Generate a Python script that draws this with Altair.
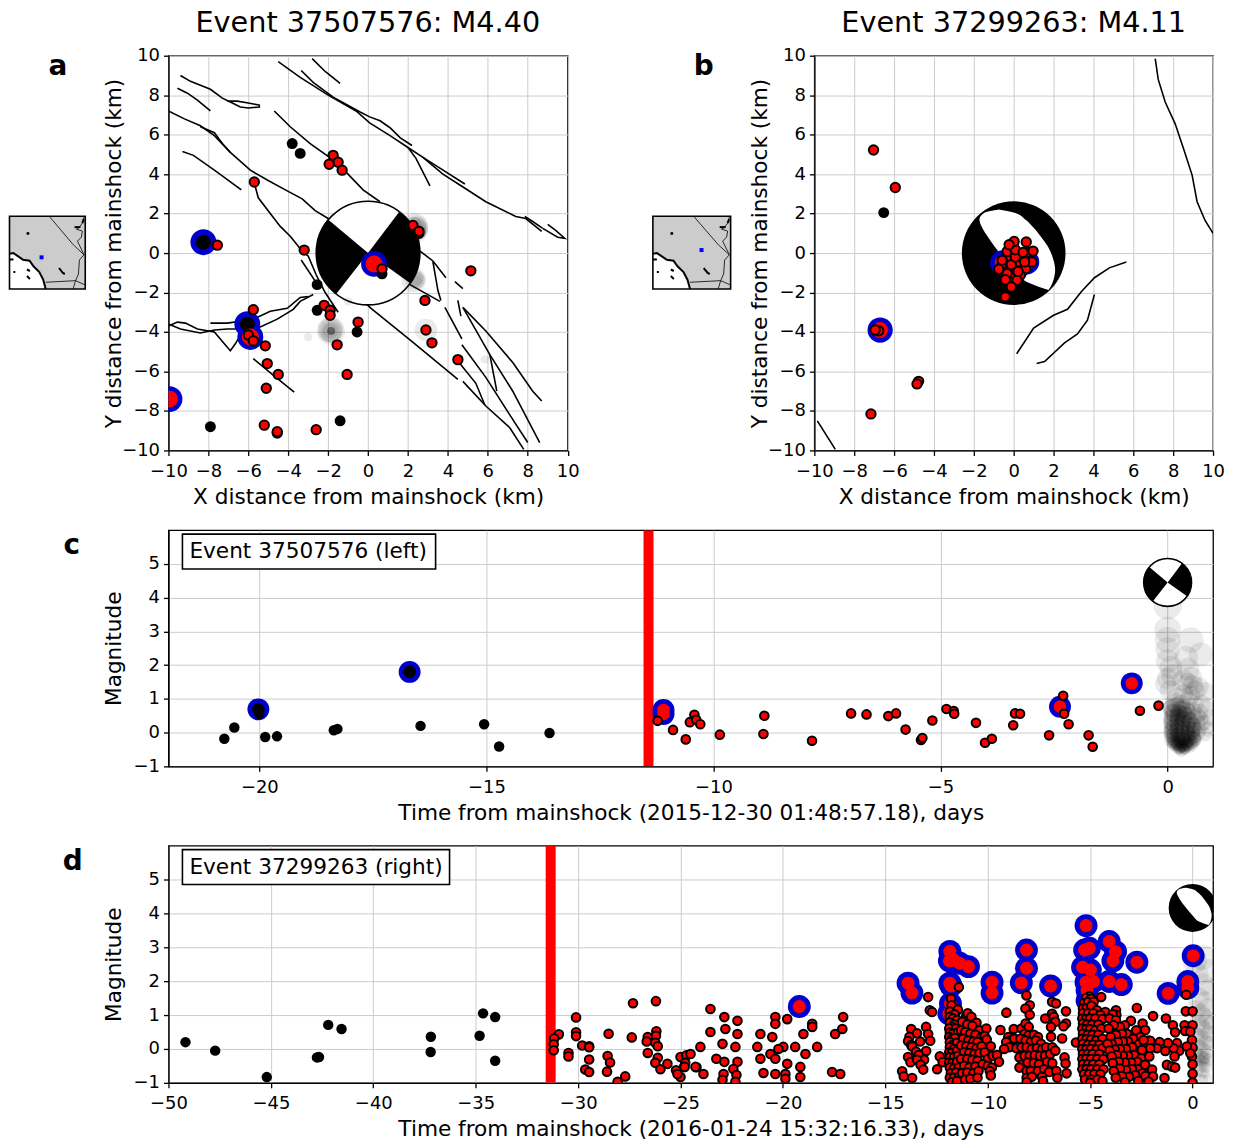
import altair as alt
import pandas as pd

FONT = "DejaVu Sans"
TITLE_A = "Event 37507576: M4.40"
TITLE_B = "Event 37299263: M4.11"
XLAB_C = "Time from mainshock (2015-12-30 01:48:57.18), days"
XLAB_D = "Time from mainshock (2016-01-24 15:32:16.33), days"

# ---------- panel a ----------
faults_a = [
    [(-9.4,9.0),(-8.9,8.7),(-8.4,8.5),(-7.9,8.3),(-7.3,7.85),(-6.9,7.65),(-6.4,7.4),(-6,7.35),(-5.45,7.4),(-5.45,7.5),(-6,7.6),(-6.55,7.7),(-7.05,7.7)],
    [(-9.55,8.35),(-9.05,8.1),(-8.55,7.75),(-7.9,7.2)],
    [(-10,7.2),(-9.2,6.8),(-8.4,6.45),(-7.7,5.95),(-6.9,5.1),(-5.9,4.2),(-5.05,3.7),(-4.05,3.15),(-3.3,2.75),(-2.65,2.15),(-2,1.75),(-1,1.2)],
    [(-8.4,6.4),(-7.7,6.1),(-7.3,5.55),(-6.9,5.1)],
    [(-9.3,5.15),(-8.75,4.95),(-7.7,4.2),(-6.35,3.2)],
    [(-5.7,3.55),(-5.5,2.8),(-4.9,2.0),(-4.4,1.35),(-3.9,0.85),(-3.3,0.1),(-3,-0.15),(-2.6,-1.1),(-2.15,-2),(-1.5,-3)],
    [(-3.35,-0.35),(-2.6,-1.5)],
    [(-4.7,7.2),(-3.9,6.4),(-2.9,5.55),(-2,4.9),(-1.1,4.1),(-0.25,3.2),(0.6,2.6)],
    [(-4.5,9.7),(-3.4,8.9),(-2,8),(-0.6,7.2),(0.08,6.6),(1.1,5.95),(2,5.35),(2.75,4.85),(3.75,4.0),(4.6,3.45),(5.9,2.6),(7.4,1.85),(7.9,1.75),(8.7,1.1)],
    [(-3.35,9.25),(-2.75,8.65),(-1.75,7.9),(-0.4,7.15),(0.08,6.9),(0.6,6.7),(1.1,6.35),(1.6,5.85),(2.2,5.45)],
    [(-2.8,9.85),(-2.15,9.2),(-1.4,8.6)],
    [(2,5.35),(2.4,4.8),(3.1,3.4)],
    [(2.75,4.85),(3.6,4.3),(4.85,3.5)],
    [(7.85,1.85),(8.25,1.6),(8.75,1.25)],
    [(9,1.45),(9.4,1.15),(9.85,0.75),(9.5,0.8),(8.75,1.25)],
    [(-1.1,-1.6),(0.15,-2.8),(2.1,-4.4),(4.5,-6.4)],
    [(4.75,-6.5),(5.9,-7.75),(7.1,-8.85),(7.8,-9.95)],
    [(4.7,-4.65),(5.9,-6.3),(7.1,-8.2),(8,-9.6)],
    [(3.85,-2.75),(4.7,-4.35)],
    [(4.75,-2.75),(5.9,-3.95),(7.25,-5.55),(8.25,-7),(8.7,-7.5)],
    [(4.75,-2.75),(6.1,-5.15),(7.25,-7),(8.6,-9.6)],
    [(6.1,-5.15),(6.45,-7)],
    [(4.5,-2.4),(4.65,-3.2)],
    [(4.6,-5.6),(5.4,-6.6),(5.85,-7.7)],
    [(4.35,-1.45),(4.75,-1.8)],
    [(2.1,-1.6),(3.6,-2.45)],
    [(2.6,0.1),(3.25,-0.4),(3.9,-1.25)],
    [(3.25,-0.45),(3.5,-1.9),(3.65,-2.4)],
    [(-10,-3.7),(-9.55,-3.5),(-9.15,-3.55),(-8.55,-3.85),(-7.7,-4),(-7.2,-4.6),(-6.9,-4.95),(-6.65,-4.6),(-6.3,-4)],
    [(-10,-3.6),(-9.4,-3.85),(-8.4,-4.05),(-7.7,-3.9),(-7.05,-3.85),(-6.4,-3.85),(-5.4,-3.75),(-4.55,-3.35),(-3.75,-2.85),(-3.4,-2.45),(-2.75,-2.1)],
    [(-7.9,-3.55),(-7.05,-3.55),(-5.75,-3.35),(-4.9,-2.95),(-4.05,-2.8),(-3.4,-2.25),(-3,-2.2)],
    [(-5.75,-5.35),(-4.8,-6.15),(-3.7,-7.05)],
]
black_a = [(-3.8,5.55),(-3.4,5.05),(-2.55,-1.6),(-2.55,-2.9),(-0.55,-4),(-7.9,-8.8),(-1.4,-8.5),(0.7,-1.05)]
red_a = [(-1.75,4.95),(-1.5,4.6),(-1.95,4.5),(-1.3,4.2),(-5.7,3.6),(-7.55,0.4),(-3.2,0.15),
         (-5.75,-2.87),(-2.2,-2.65),(-1.9,-2.9),(-1.9,-3.15),(-0.5,-3.5),(-1.55,-4.65),(-5.15,-4.7),
         (-5.05,-5.6),(-4.5,-6.15),(-5.1,-6.85),(-1.05,-6.15),(-6,-4.15),(-5.75,-4.45),(-5.2,-8.72),
         (-4.55,-9.12),(-4.55,-9.05),(-2.6,-8.95),(2.55,1.0),(2.25,1.4),(2.55,1.1),(0.7,-0.8),(5.15,-0.9),
         (2.85,-2.4),(2.9,-3.9),(3.2,-4.55),(4.5,-5.4)]
big_black_a = [(-8.25,0.55),(-6.05,-3.6)]
big_red_a = [(-5.9,-4.25),(-9.95,-7.4),(0.3,-0.55)]
grey_a = [(2.33,1.33,750),(2.4,1.3,600),(2.35,1.25,500),(2.5,1.2,420),(2.45,1.35,350),(2.5,1.0,300),(2.55,1.1,260),(2.3,1.45,220),
          (2.28,-1.36,620),(2.35,-1.36,420),(2.4,-1.36,300),(2.42,-1.3,200),(2.38,-1.42,160),
          (-1.85,-3.95,780),(-1.9,-3.9,650),(-1.85,-3.95,560),(-1.85,-4,420),(-1.88,-3.95,240),(-1.85,-3.95,70),(-1.85,-3.95,64),
          (-1.85,-3.95,64),(-1.85,-3.95,64),(-1.85,-3.95,64),(-1.85,-3.95,64),
          (2.9,-3.9,520),(-3,-4.25,70),(5.85,-5.4,70),(-1,-2.45,70)]

# ---------- panel b ----------
faults_b = [
    [(7.1,9.85),(7.25,8.8),(7.6,7.65),(8.1,6.55),(8.55,5.2),(8.95,3.95),(9.2,2.6),(9.6,1.65),(10,1)],
    [(0.15,-5.1),(1.0,-3.8),(2,-3.15),(2.7,-2.85),(3.4,-1.95),(4.05,-1.25),(4.8,-0.75),(5.65,-0.45)],
    [(1.15,-5.6),(1.55,-5.5),(2.55,-4.55),(3.2,-4.1),(3.7,-3.4),(4.05,-2.1)],
    [(-9.85,-8.5),(-8.95,-9.95)],
]
lens_y = [2.21,2.05,1.7,1.28,0.75,0.27,-0.3,-0.82,-1.5,-1.87]
lens_left = [-0.75,-1.45,-1.72,-1.58,-1.25,-0.91,-0.45,0,0.75,1.75]
lens_right = [-0.75,0.0,0.58,1.0,1.42,1.75,1.98,2.08,1.95,1.75]
black_b = [(-6.52,2.05)]
big_b = [(-6.7,-3.9),(-0.55,-0.5),(0.65,-0.45),(0.1,-0.8),(0,-0.45)]
red_b = [(-7.03,5.22),(-5.94,3.32),(-7.16,-8.15),(-4.77,-6.5),(-4.85,-6.63),(-6.77,-3.94),(-6.95,-3.9),
         (-0.42,-2.22),(0.6,-0.8),(0.75,-0.3),(-0.02,0.5),(0.33,-1.13),(0.08,-1.13),(-0.17,-1.21),(-0.22,-1.46),
         (0.17,-1.38),(-0.5,-0.96),(-0.25,-0.88),(-0.33,-1.04),(0.92,-0.45),(0.75,0.05),(0.42,-0.29),(-0.17,-0.29),
         (-0.58,-0.54),(0.25,-0.45),(-0.42,-1.35),(-0.12,-1.72),(-0.75,-0.82),(0.22,-0.93),(-0.12,-0.59),(0.55,-0.45),
         (-0.58,-0.37),(-0.33,0.08),(0.08,-0.2),(0.08,0.17),(0.47,0.03),(0.97,0.1),(0.63,0.56),(0.02,0.59),(-0.23,0.42)]

# ---------- panel c ----------
black_c = [(-20.77,-0.18),(-20.55,0.15),(-19.87,-0.13),(-19.61,-0.11),(-18.36,0.07),(-18.28,0.11),(-16.45,0.2),
           (-15.05,0.25),(-14.72,-0.41),(-13.61,-0.01),(-20,0.55)]
big_black_c = [(-20.02,0.69),(-16.69,1.8)]
big_red_c = [(-11.1,0.55),(-11.1,0.67),(-2.37,0.77),(-0.79,1.46)]
red_c = [(-11.23,0.35),(-10.89,0.08),(-10.61,-0.2),(-10.42,0.53),(-10.52,0.31),(-10.38,0.38),(-10.29,0.25),
         (-9.86,-0.06),(-8.88,0.5),(-8.9,-0.04),(-7.83,-0.24),(-6.97,0.57),(-6.63,0.54),(-6.15,0.49),(-5.98,0.57),
         (-5.77,0.09),(-5.43,-0.22),(-5.4,-0.16),(-5.18,0.36),(-4.87,0.7),(-4.71,0.64),(-4.7,0.56),(-4.22,0.29),
         (-4.02,-0.3),(-3.87,-0.18),(-3.36,0.57),(-3.25,0.56),(-3.4,0.22),(-2.61,-0.08),(-2.3,1.09),(-2.28,0.56),
         (-2.18,0.25),(-1.74,-0.08),(-1.65,-0.42),(-0.61,0.65),(-0.2,0.8)]
grey_c = [(0,3.78),(0,3.05),(0,2.75),(0.51,2.74),(0,2.46),(0.73,2.32),(0.41,2.22),(0,2.12),(0.45,1.88),(0.07,1.93),
          (0.52,1.63),(-0.05,1.44),(0.68,1.35),(0.83,1.2),(0.35,1.55),(0.45,1.45),(0.55,1.4),(0.6,1.25),(0.1,1.7),(0,1.6),
          (0.05,1.25),(0.2,1.05),(0.35,1.15),(0.5,1.1),(0.75,0.85),(0.85,0.7),(0.95,0.45),(0.9,0.1),(0.75,0.25),(0.65,0.5),
          (0.6,0.8),(0.45,0.95),(0.3,0.85),(0.15,0.9),(0.1,0.75),(0.25,0.7),(0.4,0.72),(0.55,0.65),(0.7,0.6),(0.12,0.55),
          (0.28,0.55),(0.42,0.52),(0.58,0.45),(0.72,0.4),(0.08,0.4),(0.22,0.42),(0.36,0.38),(0.5,0.35),(0.65,0.3),(0.8,0.3),
          (0.1,0.25),(0.2,0.28),(0.32,0.22),(0.45,0.2),(0.58,0.18),(0.7,0.1),(0.08,0.12),(0.18,0.1),(0.3,0.08),(0.42,0.06),
          (0.55,0.05),(0.68,-0.02),(0.82,-0.05),(0.06,0),(0.15,-0.02),(0.26,-0.04),(0.38,-0.05),(0.5,-0.06),(0.62,-0.1),(0.08,-0.1),
          (0.18,-0.12),(0.28,-0.14),(0.4,-0.15),(0.52,-0.16),(0.07,-0.2),(0.16,-0.22),(0.26,-0.22),(0.36,-0.24),(0.46,-0.25),(0.58,-0.25),
          (0.1,-0.28),(0.2,-0.3),(0.3,-0.3),(0.4,-0.32),(0.5,-0.32),(0.14,-0.36),(0.24,-0.38),(0.34,-0.38),(0.44,-0.38),(0.54,-0.36),
          (0.18,-0.42),(0.28,-0.44),(0.38,-0.44),(0.48,-0.42),(0.25,-0.5),(0.35,-0.5),(0.3,-0.56),(0.12,-0.32),(0.22,-0.26),(0.32,-0.18),
          (0.42,-0.28),(0.26,-0.34),(0.36,-0.3),(0.16,-0.3),(0.3,-0.42),(0.4,-0.4),(0.2,-0.36),(0.32,-0.36),(0.25,-0.44),(0.35,-0.44)]
grey_c_core = [(0.08,0.72),(0.2,0.78),(0.32,0.7),(0.44,0.62),(0.12,0.6),(0.24,0.58),(0.36,0.54),(0.1,0.44),(0.22,0.48),(0.34,0.42),(0.46,0.38),
               (0.08,0.3),(0.2,0.32),(0.32,0.3),(0.44,0.26),(0.56,0.22),(0.1,0.16),(0.22,0.18),(0.34,0.14),(0.46,0.12),(0.58,0.1),
               (0.08,0.04),(0.2,0.06),(0.32,0.02),(0.44,0),(0.56,-0.02),(0.1,-0.08),(0.22,-0.06),(0.34,-0.1),(0.46,-0.1),(0.58,-0.14),
               (0.12,-0.18),(0.24,-0.18),(0.36,-0.2),(0.48,-0.22),(0.6,-0.2),(0.14,-0.26),(0.28,-0.28),(0.42,-0.3),(0.54,-0.28),
               (0.2,-0.34),(0.32,-0.4),(0.44,-0.36),(0.26,-0.46),(0.38,-0.48)]

# ---------- panel d ----------
black_d = [(-49.17,0.2),(-47.72,-0.05),(-45.2,-0.83),(-42.75,-0.25),(-42.65,-0.24),(-42.2,0.71),(-41.55,0.59),(-37.2,-0.09),
           (-37.19,0.36),(-34.81,0.39),(-34.64,1.05),(-34.05,0.94),(-34.05,-0.35)]
big_d = [(-19.2,1.25),(-13.89,1.94),(-13.7,1.65),(-11.85,2.88),(-11.87,2.6),(-11.66,2.63),(-11.37,2.53),(-10.94,2.43),
         (-11.85,1.94),(-11.79,1.86),(-11.82,1.34),(-11.9,1.04),(-9.79,1.65),(-9.79,1.97),(-8.11,2.92),(-8.11,2.38),(-8.36,1.95),
         (-6.93,1.86),(-5.2,3.64),(-5.27,2.92),(-5.04,2.97),(-5.37,2.41),(-4.99,2.33),(-5.2,1.97),(-4.83,1.99),(-5.15,1.73),
         (-5.15,1.43),(-4.07,3.17),(-3.89,2.6),(-3.76,2.87),(-4.07,1.99),(-3.48,1.9),(-2.72,2.56),(-1.19,1.64),(0.03,2.75),
         (-0.23,1.99),(-0.23,1.8)]
red_d_early = [(-30.94,0.43),(-31.17,0.31),(-31.19,0.14),(-31.19,-0.04),(-30.47,-0.12),(-30.47,-0.22),(-30.1,0.93),(-30.1,0.49),
               (-30.1,0.38),(-29.8,0.1),(-29.46,0.08),(-29.46,0.05),(-29.46,-0.31),(-29.65,-0.61),(-29.46,-0.68),(-28.51,0.45),
               (-28.56,-0.21),(-28.44,-0.4),(-28.59,-0.67),(-27.7,-0.81),(-28.07,-0.97),(-27.32,1.35),(-26.2,1.41),(-27.38,0.34),
               (-26.6,0.35),(-26.65,0.22),(-26.18,0.52),(-26.2,0.39),(-26.23,0.18),(-26.11,0.08),(-26.6,-0.12),(-26.11,-0.26),
               (-26.23,-0.41),(-25.98,-0.6),(-25.64,-0.44),(-25.22,-0.63),(-25,-0.24),(-24.72,-0.19),(-24.77,-0.41),(-24.83,-0.53),
               (-25,-0.83),(-24.22,-0.54)]
red_d_24 = [(-23.54,1.18),(-22.86,0.94),(-22.22,0.83),(-22.81,0.59),(-23.54,0.5),(-22.22,0.44),(-22.95,0.15),(-22.32,0.06),
            (-24.03,0.06),(-23.25,-0.29),(-22.22,-0.38),(-22.86,-0.38),(-24.27,-0.53),(-22.42,-0.59),(-23.88,-0.74),(-22.9,-0.74),
            (-22.27,-0.77),(-22.95,-0.91),(-22.32,-0.97),(-24.8,-0.53),(-24.51,-0.15),(-25.15,-0.74)]
red_d_20 = [(-20.37,0.94),(-19.79,0.88),(-20.37,0.74),(-21.1,0.44),(-20.52,0.35),(-21.25,0.06),(-20.61,-0.15),(-21.1,-0.29),
            (-20.37,-0.29),(-19.98,0.06),(-20.22,0),(-19,0.44),(-19.4,0.06),(-18.9,-0.15),(-19.79,-0.44),(-20.37,-0.74),(-20.95,-0.71),
            (-19.88,-0.74),(-19.15,-0.53),(-19.88,-0.88),(-19.15,-0.83),(-18.57,0.74),(-18.57,0.65),(-18.33,0.06),(-17.06,0.94),
            (-17.45,0.44),(-17.1,0.59),(-17.6,-0.68),(-17.2,-0.74)]
red_d_14 = [(-12.91,1.53),(-12.83,1.14),(-12.72,1.09),(-13.74,0.59),(-13.01,0.65),(-13.45,0.46),(-13.82,0.36),(-12.91,0.44),
            (-13.3,0.22),(-12.81,0.24),(-13.89,0.23),(-13.74,0.12),(-13.69,0.07),(-13.01,-0.06),(-13.5,-0.08),(-13.37,-0.18),
            (-13.89,-0.24),(-13.11,-0.32),(-13.77,-0.39),(-13.45,-0.32),(-13.28,-0.47),(-13.15,-0.61),(-14.18,-0.66),(-14.1,-0.81),
            (-13.69,-0.86),(-12.47,-0.6),(-12.34,-0.22),(-12.2,-0.39)]
red_d_12 = [(-11.79,1.48),(-11.41,1.82),(-11.77,1.29),(-11.46,1.16),(-11.85,1.1),(-11.62,1.02),(-11.85,0.95),(-11.7,0.9),(-11.5,0.85),
            (-11.85,0.78),(-11.65,0.72),(-11.75,0.65),(-11.88,0.6),(-11.55,0.6),(-11.85,0.48),(-11.7,0.45),(-11.45,0.5),(-11.88,0.35),
            (-11.75,0.3),(-11.6,0.32),(-11.85,0.2),(-11.7,0.12),(-11.5,0.18),(-11.85,0.05),(-11.65,0),(-11.88,-0.1),(-11.75,-0.12),
            (-11.5,-0.05),(-11.85,-0.25),(-11.65,-0.25),(-11.45,-0.2),(-11.88,-0.4),(-11.72,-0.42),(-11.5,-0.38),(-11.85,-0.55),
            (-11.65,-0.58),(-11.42,-0.55),(-11.8,-0.72),(-11.55,-0.7),(-11.85,-0.85),(-11.65,-0.85),(-11.4,-0.82),(-11.75,-0.98),(-11.5,-0.95)]
red_d_10 = [(-11.05,0.98),(-10.98,1.05),(-10.8,0.95),(-11.25,0.8),(-10.55,0.77),(-11,0.72),(-10.75,0.68),(-10.4,0.55),(-11.3,0.55),
            (-11.1,0.5),(-10.85,0.45),(-10.6,0.42),(-10.07,0.6),(-10.3,0.35),(-11.2,0.3),(-10.95,0.25),(-10.7,0.22),(-10.5,0.2),
            (-10.15,0.38),(-10.05,0.28),(-11.3,0.1),(-11.05,0.08),(-10.8,0.05),(-10.55,0.02),(-10.3,0.08),(-9.85,0.08),(-11.15,-0.1),
            (-10.9,-0.12),(-10.65,-0.15),(-10.4,-0.12),(-10.15,-0.1),(-11.3,-0.3),(-11.0,-0.3),(-10.75,-0.32),(-10.5,-0.35),(-10,-0.3),
            (-9.75,-0.2),(-9.55,-0.18),(-9.45,-0.38),(-11.15,-0.5),(-10.9,-0.55),(-10.6,-0.52),(-10.25,-0.45),(-10,-0.5),(-9.8,-0.55),
            (-11.25,-0.72),(-11,-0.7),(-10.7,-0.72),(-10.45,-0.65),(-9.9,-0.65),(-9.85,-0.78),(-11.1,-0.9),(-10.85,-0.88),(-10.5,-0.85)]
red_d_8 = [(-9.09,1.07),(-8.11,1.58),(-7.95,1.29),(-8.16,1.19),(-7.95,1.01),(-6.86,1.39),(-6.67,1.34),(-7.19,0.9),(-6.86,1.04),(-6.78,0.95),
           (-6.18,1.11),(-6.7,0.8),(-6.18,0.75),(-6.3,0.67),(-6.91,0.65),(-6.91,0.36),(-6.37,0.31),(-5.69,0.19),(-9.38,0.56),(-8.73,0.59),
           (-9.0,0.35),(-8.9,0.25),(-8.7,0.3),(-9.1,0.2),(-8.95,0.05),(-9.2,0),(-8.6,0.02),(-8.35,0.6),(-8.15,0.75),(-8.0,0.65),(-8.2,0.45),
           (-8.0,0.4),(-7.75,0.42),(-7.55,0.35),(-8.4,0.3),(-8.15,0.25),(-7.9,0.2),(-7.65,0.25),(-7.4,0.15),(-8.35,0.05),(-8.1,0.05),
           (-7.85,0),(-7.6,0.02),(-7.35,-0.02),(-7.15,0.05),(-6.85,0.05),(-8.45,-0.25),(-8.2,-0.2),(-7.95,-0.2),(-7.7,-0.18),(-7.45,-0.2),
           (-7.2,-0.2),(-6.95,-0.15),(-6.7,-0.05),(-6.25,-0.25),(-8.3,-0.45),(-8.05,-0.4),(-7.75,-0.42),(-7.5,-0.45),(-7.1,-0.38),(-6.85,-0.42),
           (-6.2,-0.43),(-8.45,-0.55),(-8.1,-0.65),(-7.9,-0.65),(-7.55,-0.65),(-7.25,-0.6),(-7,-0.68),(-6.65,-0.65),(-6.15,-0.72),(-8.1,-0.85),
           (-7.85,-0.82),(-7.35,-0.82),(-6.6,-0.85),(-8.1,-0.98),(-7.3,-0.95)]
red_d_5 = [(-5.04,1.55),(-5.2,1.5),(-4.95,1.48),(-5.3,1.35),(-5.1,1.38),(-4.83,1.39),(-4.46,1.53),(-5.35,1.2),(-5.18,1.2),(-4.94,1.27),
           (-4.67,1.14),(-4.26,1.09),(-5.35,1.05),(-5.1,1.05),(-4.85,1.05),(-4.5,1),(-5.38,0.9),(-5.2,0.88),(-5,0.9),(-4.75,0.9),(-4.4,0.88),
           (-5.35,0.75),(-5.15,0.72),(-4.9,0.72),(-4.6,0.72),(-5.38,0.6),(-5.2,0.58),(-5,0.58),(-4.75,0.55),(-4.45,0.6),(-5.35,0.45),
           (-5.12,0.42),(-4.88,0.42),(-4.6,0.42),(-5.38,0.3),(-5.2,0.28),(-4.95,0.28),(-4.7,0.25),(-4.4,0.3),(-5.35,0.15),(-5.1,0.12),
           (-4.85,0.12),(-4.55,0.12),(-5.38,0),(-5.2,-0.02),(-4.95,0),(-4.68,-0.02),(-4.4,0.02),(-5.35,-0.15),(-5.12,-0.15),(-4.88,-0.15),
           (-4.55,-0.15),(-5.38,-0.3),(-5.2,-0.3),(-4.95,-0.3),(-4.65,-0.3),(-4.35,-0.3),(-5.35,-0.45),(-5.1,-0.45),(-4.85,-0.45),(-4.55,-0.45),
           (-5.38,-0.6),(-5.18,-0.6),(-4.95,-0.6),(-4.65,-0.6),(-4.35,-0.6),(-5.3,-0.75),(-5.05,-0.75),(-4.8,-0.75),(-4.5,-0.75),(-5.25,-0.9),
           (-4.95,-0.9),(-4.65,-0.9),(-5,-1),(-4.4,-0.95)]
red_d_3 = [(-3.74,1.14),(-3.72,1),(-3.9,1.02),(-4.05,0.9),(-3.74,0.85),(-2.72,1.21),(-3.01,0.83),(-3.3,0.7),(-3.55,0.65),(-3.85,0.7),(-4.1,0.6),
           (-2.44,0.75),(-2.31,0.56),(-2.75,0.55),(-3.2,0.45),(-3.45,0.45),(-3.75,0.42),(-4,0.35),(-2.55,0.35),(-2.9,0.3),(-3.15,0.22),(-3.4,0.22),
           (-3.65,0.2),(-3.95,0.15),(-4.15,0.15),(-2.6,0.15),(-2.35,0.2),(-2.15,0.25),(-2.95,0.05),(-3.25,0),(-3.55,0),(-3.8,-0.02),(-4.05,-0.05),
           (-2.55,-0.05),(-2.25,0.05),(-2.85,-0.18),(-3.15,-0.2),(-3.4,-0.2),(-3.7,-0.18),(-3.95,-0.22),(-2.5,-0.28),(-2.7,-0.38),(-3,-0.4),
           (-3.3,-0.4),(-3.6,-0.38),(-3.9,-0.42),(-2.4,-0.5),(-2.65,-0.6),(-2.95,-0.6),(-3.25,-0.62),(-3.55,-0.58),(-3.85,-0.65),(-2.45,-0.72),
           (-2.3,-0.8),(-2.8,-0.78),(-3.1,-0.82),(-3.45,-0.8),(-3.75,-0.85),(-2.65,-0.95),(-3.3,-0.98)]
red_d_1 = [(-1.93,0.97),(-1.3,0.9),(-0.96,0.7),(-0.85,0.49),(-0.31,1.6),(-0.33,1.11),(0,1.11),(-0.39,0.7),(0,0.7),(-0.36,0.53),(-0.11,0.51),
           (-0.03,0.26),(0,0.04),(-0.03,-0.22),(0,-0.45),(0,-0.73),(0,-0.99),(-0.76,0.17),(-0.65,-0.05),(-0.93,0.02),(-0.88,-0.22),(-1.25,-0.47),
           (-1.01,-0.52),(-0.85,-0.55),(-1.37,-0.86),(-2.07,0.24),(-1.61,0.2),(-1.2,0.17),(-1.33,-0.06),(-1.74,0.02),(-2.07,0.02),(-2.39,0.26),
           (-2.47,-0.03),(-2.11,-0.22),(-2.31,-0.47),(-1.98,-0.61),(-1.93,-0.81),(-2.15,-0.96),(-0.28,0.07),(-0.11,-0.13)]
grey_d = [(0.78,2.3),(0.46,2.7),(0.1,2.6),(0.2,2.2),(0.5,1.9),(0.9,1.75),(0.3,1.5),(0.6,1.4),(0.7,1.2),(0.15,1.15),(0.4,1.05),
          (0.55,0.95),(0.75,0.85),(0.9,0.7),(0.25,0.75),(0.45,0.65),(0.6,0.55),(0.8,0.45),(0.2,0.4),(0.35,0.35),(0.5,0.3),(0.65,0.2),
          (0.85,0.15),(0.25,0.1),(0.4,0.05),(0.55,-0.02),(0.7,-0.08),(0.15,-0.1),(0.3,-0.18),(0.45,-0.22),(0.6,-0.25),(0.8,-0.3),
          (0.2,-0.32),(0.35,-0.35),(0.5,-0.38),(0.6,-0.42),(0.52,-0.3),(0.55,-0.25),(0.25,-0.48),(0.42,-0.52),(0.56,-0.55),(0.7,-0.55),
          (0.3,-0.68),(0.48,-0.7),(0.62,-0.72),(0.2,-0.8),(0.4,-0.85),(0.55,-0.88),(0.75,-0.85)]

# ---------- location inset ----------
map_land_x = [0, 78]
map_land_y = [0, 73]
map_coast = [(0,35.3),(4,36),(9,32.7),(14,29.3),(20.7,28.3),(24.7,22.7),(30.7,17),(34.7,9.3),(37.3,0)]
map_lines = [
    [(41.7,72),(65.7,44.3),(76.7,34.3)],
    [(76.7,72),(75,66),(72,62),(69,60),(75,58),(74,52),(70,48),(76.7,34.3),(72,29),(71,15),(68,8.3),(78,4)],
    [(37.3,6.7),(68,8.3),(65.5,0)],
]
map_thick = [
    [(0,35.3),(4,36),(9,32.7),(14,29.3),(20.7,28.3),(24.7,22.7),(30.7,17),(34.7,9.3),(37.3,0)],
    [(0,29.5),(3,29.5),(4,30)],
    [(4,17),(6,17)],
    [(18,19.5),(21,18)],
    [(18,13),(21,10)],
    [(51,21),(55,16),(57,15)],
    [(75,66),(76.5,70)],
    [(67,62),(73,62)],
]
map_dots = [(19,55.7)]
map_event_a = [(33,31.7)]
map_event_b = [(48.8,39)]


def frame(pairs, cols=("x", "y")):
    return pd.DataFrame(pairs, columns=list(cols))


def lines(groups):
    rows = []
    for i, g in enumerate(groups):
        for j, (x, y) in enumerate(g):
            rows.append({"x": x, "y": y, "g": i, "o": j})
    return pd.DataFrame(rows)


def make_enc(xdom, ydom, xvals, yvals, xtitle, ytitle, xpad, ypad):
    X = alt.X("x:Q", scale=alt.Scale(domain=xdom, nice=False, zero=False),
              axis=alt.Axis(values=xvals, title=xtitle, titlePadding=xpad, labelPadding=7, labelOverlap=False,
                            labelFlush=False, labelBound=False, grid=True))
    Y = alt.Y("y:Q", scale=alt.Scale(domain=ydom, nice=False, zero=False),
              axis=alt.Axis(values=yvals, title=ytitle, titlePadding=ypad, labelOverlap=False,
                            labelFlush=False, labelBound=False, grid=True))
    return X, Y


def dots(data, X, Y, fill, size, stroke=None, sw=0):
    kw = dict(fill=fill, size=size, opacity=1, clip=True)
    if stroke:
        kw.update(stroke=stroke, strokeWidth=sw)
    else:
        kw.update(strokeWidth=0)
    return alt.Chart(frame(data)).mark_circle(**kw).encode(x=X, y=Y)


def fault_lines(groups, X, Y):
    return alt.Chart(lines(groups)).mark_line(color="black", strokeWidth=1.6, clip=True).encode(
        x=X, y=Y, detail="g:N", order="o:Q")


def label(text, x, y, size=21.7, weight="normal", align="center"):
    return alt.Chart(pd.DataFrame({"t": [text]})).mark_text(
        font=FONT, fontSize=size, fontWeight=weight, align=align, baseline="middle", color="black"
    ).encode(x=alt.value(x), y=alt.value(y), text="t:N")


def ball(cx, cy, radius, X, Y):
    d = frame([(cx, cy)])
    circle = alt.Chart(d).mark_circle(fill="white", stroke="black", strokeWidth=1.6, opacity=1,
                                      size=(2 * radius) ** 2, clip=True).encode(x=X, y=Y)
    left = alt.Chart(d).mark_arc(theta=3.805, theta2=5.41, outerRadius=radius, innerRadius=0, color="black", clip=True).encode(x=X, y=Y)
    right = alt.Chart(d).mark_arc(theta=0.646, theta2=2.19, outerRadius=radius, innerRadius=0, color="black", clip=True).encode(x=X, y=Y)
    return [circle, left, right]


def lens_ball(cx, cy, radius, sx, sy, X, Y):
    d = frame([(cx, cy)])
    disc = alt.Chart(d).mark_circle(fill="black", opacity=1, strokeWidth=0, size=(2 * radius) ** 2, clip=True).encode(x=X, y=Y)
    lens = pd.DataFrame({"y": [cy + v * sy for v in lens_y],
                         "x": [cx + v * sx for v in lens_left],
                         "x2": [cx + v * sx for v in lens_right]})
    hole = alt.Chart(lens).mark_area(orient="horizontal", color="white", opacity=1, interpolate="monotone", clip=True).encode(
        y=Y, x=X, x2="x2:Q")
    return [disc, hole]


def inset(x0, x1, y0, y1, event):
    IX = alt.X("x:Q", scale=alt.Scale(domain=map_land_x, range=[x0, x1], nice=False, zero=False), axis=None)
    IY = alt.Y("y:Q", scale=alt.Scale(domain=map_land_y, range=[y1, y0], nice=False, zero=False), axis=None)
    box = pd.DataFrame({"x": [map_land_x[0]], "x2": [map_land_x[1]], "y": [map_land_y[0]], "y2": [map_land_y[1]]})
    land = alt.Chart(box).mark_rect(fill="#cccccc").encode(x=IX, x2="x2:Q", y=IY, y2="y2:Q")
    coast = frame(map_coast)
    coast["y0"] = 0
    sea = alt.Chart(coast).mark_area(color="white", opacity=1).encode(x=IX, y=IY, y2="y0:Q")
    thin = alt.Chart(lines(map_lines)).mark_line(color="black", strokeWidth=0.8).encode(x=IX, y=IY, detail="g:N", order="o:Q")
    thick = alt.Chart(lines(map_thick)).mark_line(color="black", strokeWidth=2).encode(x=IX, y=IY, detail="g:N", order="o:Q")
    dot = alt.Chart(frame(map_dots)).mark_circle(fill="black", size=9, opacity=1, strokeWidth=0).encode(x=IX, y=IY)
    ev = alt.Chart(frame(event)).mark_square(fill="#0000ff", size=16, opacity=1, strokeWidth=0).encode(x=IX, y=IY)
    rim = alt.Chart(box).mark_rect(fill=None, stroke="black", strokeWidth=1.6).encode(x=IX, x2="x2:Q", y=IY, y2="y2:Q")
    return alt.layer(land, sea, thin, thick, dot, ev, rim)


ticks_km = [-10, -8, -6, -4, -2, 0, 2, 4, 6, 8, 10]
XA, YA = make_enc([-10, 10], [-10, 10], ticks_km, ticks_km, "X distance from mainshock (km)", "Y distance from mainshock (km)", 6, -4)

grey_a_df = pd.DataFrame(grey_a, columns=["x", "y", "s"])
grey_a_layer = alt.Chart(grey_a_df).mark_circle(fill="black", opacity=0.08, strokeWidth=0, clip=True).encode(
    x=XA, y=YA, size=alt.Size("s:Q", scale=None, legend=None))

main_a = alt.layer(
    fault_lines(faults_a, XA, YA),
    *ball(0, 0, 52, XA, YA),
    grey_a_layer,
    dots(big_black_a + big_red_a, XA, YA, "#0000cc", 676),
    dots(big_black_a, XA, YA, "black", 225),
    dots(big_red_a, XA, YA, "red", 289),
    dots(black_a, XA, YA, "black", 120),
    dots(red_a, XA, YA, "red", 88, "black", 2),
    label(TITLE_A, 200, -33, 28.8),
    label("a", -111, 11, 28, "bold"),
)
panel_a = alt.layer(main_a, inset(-159.5, -83.5, 161, 234, map_event_a)).resolve_scale(
    x="independent", y="independent").properties(width=400.5, height=396)

XB, YB = make_enc([-10, 10], [-10, 10], ticks_km, ticks_km, "X distance from mainshock (km)", "Y distance from mainshock (km)", 6, -4)
main_b = alt.layer(
    fault_lines(faults_b, XB, YB),
    *lens_ball(0, 0, 52, 1, 1, XB, YB),
    dots(big_b, XB, YB, "#0000cc", 640),
    dots(big_b, XB, YB, "red", 256),
    dots(black_b, XB, YB, "black", 120),
    dots(red_b, XB, YB, "red", 88, "black", 2),
    label(TITLE_B, 200, -33, 28.8),
    label("b", -111, 11, 28, "bold"),
)
panel_b = alt.layer(main_b, inset(-162, -84, 161, 234, map_event_b)).resolve_scale(
    x="independent", y="independent").properties(width=400, height=396)

mag_ticks = [-1, 0, 1, 2, 3, 4, 5]
grey_size = alt.Size("y:Q", scale=alt.Scale(domain=[-1, 3], range=[60, 700]), legend=None)


def bar(x, X):
    return alt.Chart(pd.DataFrame({"x": [x]})).mark_rule(color="red", strokeWidth=10, clip=True).encode(x=X)


def note(text):
    box = alt.Chart(pd.DataFrame({"a": [0]})).mark_rect(fill="white", stroke="black", strokeWidth=1.6).encode(
        x=alt.value(14), x2=alt.value(268 if "left" in text else 282), y=alt.value(4), y2=alt.value(39))
    return [box, label(text, 21, 21, 21.7, "normal", "left")]


XC, YC = make_enc([-22, 1], [-1, 6], [-20, -15, -10, -5, 0], mag_ticks, XLAB_C, "Magnitude", 6, 8)
panel_c = alt.layer(
    bar(-11.43, XC),
    alt.Chart(frame(grey_c)).mark_circle(fill="black", opacity=0.08, strokeWidth=0, clip=True).encode(x=XC, y=YC, size=grey_size),
    alt.Chart(frame(grey_c_core)).mark_circle(fill="black", opacity=0.14, strokeWidth=0, clip=True).encode(x=XC, y=YC, size=grey_size),
    *ball(0, 4.45, 24, XC, YC),
    dots(big_black_c + big_red_c, XC, YC, "#0000cc", 484),
    dots(big_black_c, XC, YC, "black", 160),
    dots(big_red_c, XC, YC, "red", 160),
    dots(black_c, XC, YC, "black", 110),
    dots(red_c, XC, YC, "red", 75, "black", 2),
    *note("Event 37507576 (left)"),
    label("c", -97, 16, 28, "bold"),
).properties(width=1048, height=237)

XD, YD = make_enc([-50, 1], [-1, 6], [-50, -45, -40, -35, -30, -25, -20, -15, -10, -5, 0], mag_ticks, XLAB_D, "Magnitude", 6, 8)
red_d = red_d_early + red_d_24 + red_d_20 + red_d_14 + red_d_12 + red_d_10 + red_d_8 + red_d_5 + red_d_3 + red_d_1
panel_d = alt.layer(
    bar(-31.34, XD),
    alt.Chart(frame(grey_d)).mark_circle(fill="black", opacity=0.07, strokeWidth=0, clip=True).encode(x=XD, y=YD, size=grey_size),
    *lens_ball(0, 4.16, 24, 0.449, 0.269, XD, YD),
    dots(big_d, XD, YD, "#0000cc", 529),
    dots(big_d, XD, YD, "red", 169),
    dots(black_d, XD, YD, "black", 110),
    dots(red_d, XD, YD, "red", 75, "black", 2),
    *note("Event 37299263 (right)"),
    label("d", -96, 16, 28, "bold"),
).properties(width=1048, height=238)

spacer = alt.Chart(pd.DataFrame({"a": [0]})).mark_point(opacity=0).encode(
    x=alt.value(0), y=alt.value(0)
).properties(width=1048, height=316.5, view=alt.ViewBackground(stroke="transparent"))

top = alt.hconcat(panel_a, panel_b, spacing=247, bounds="flush")
chart = alt.vconcat(top, spacer, panel_c, panel_d, spacing=79.5, bounds="flush").properties(
    padding={"left": -4, "top": -2, "right": 0, "bottom": 0}
).configure_axis(
    domainColor="black", domainWidth=1.3, tickColor="black", tickWidth=1.3, tickSize=5,
    labelFont=FONT, labelFontSize=18, labelColor="black", labelPadding=4,
    titleFont=FONT, titleFontSize=21.7, titleFontWeight="normal", titleColor="black",
    gridColor="#cccccc", gridWidth=1,
).configure_view(stroke="black", strokeWidth=1.3)

chart.save("out.html", embed_options={"renderer": "svg", "actions": False})
